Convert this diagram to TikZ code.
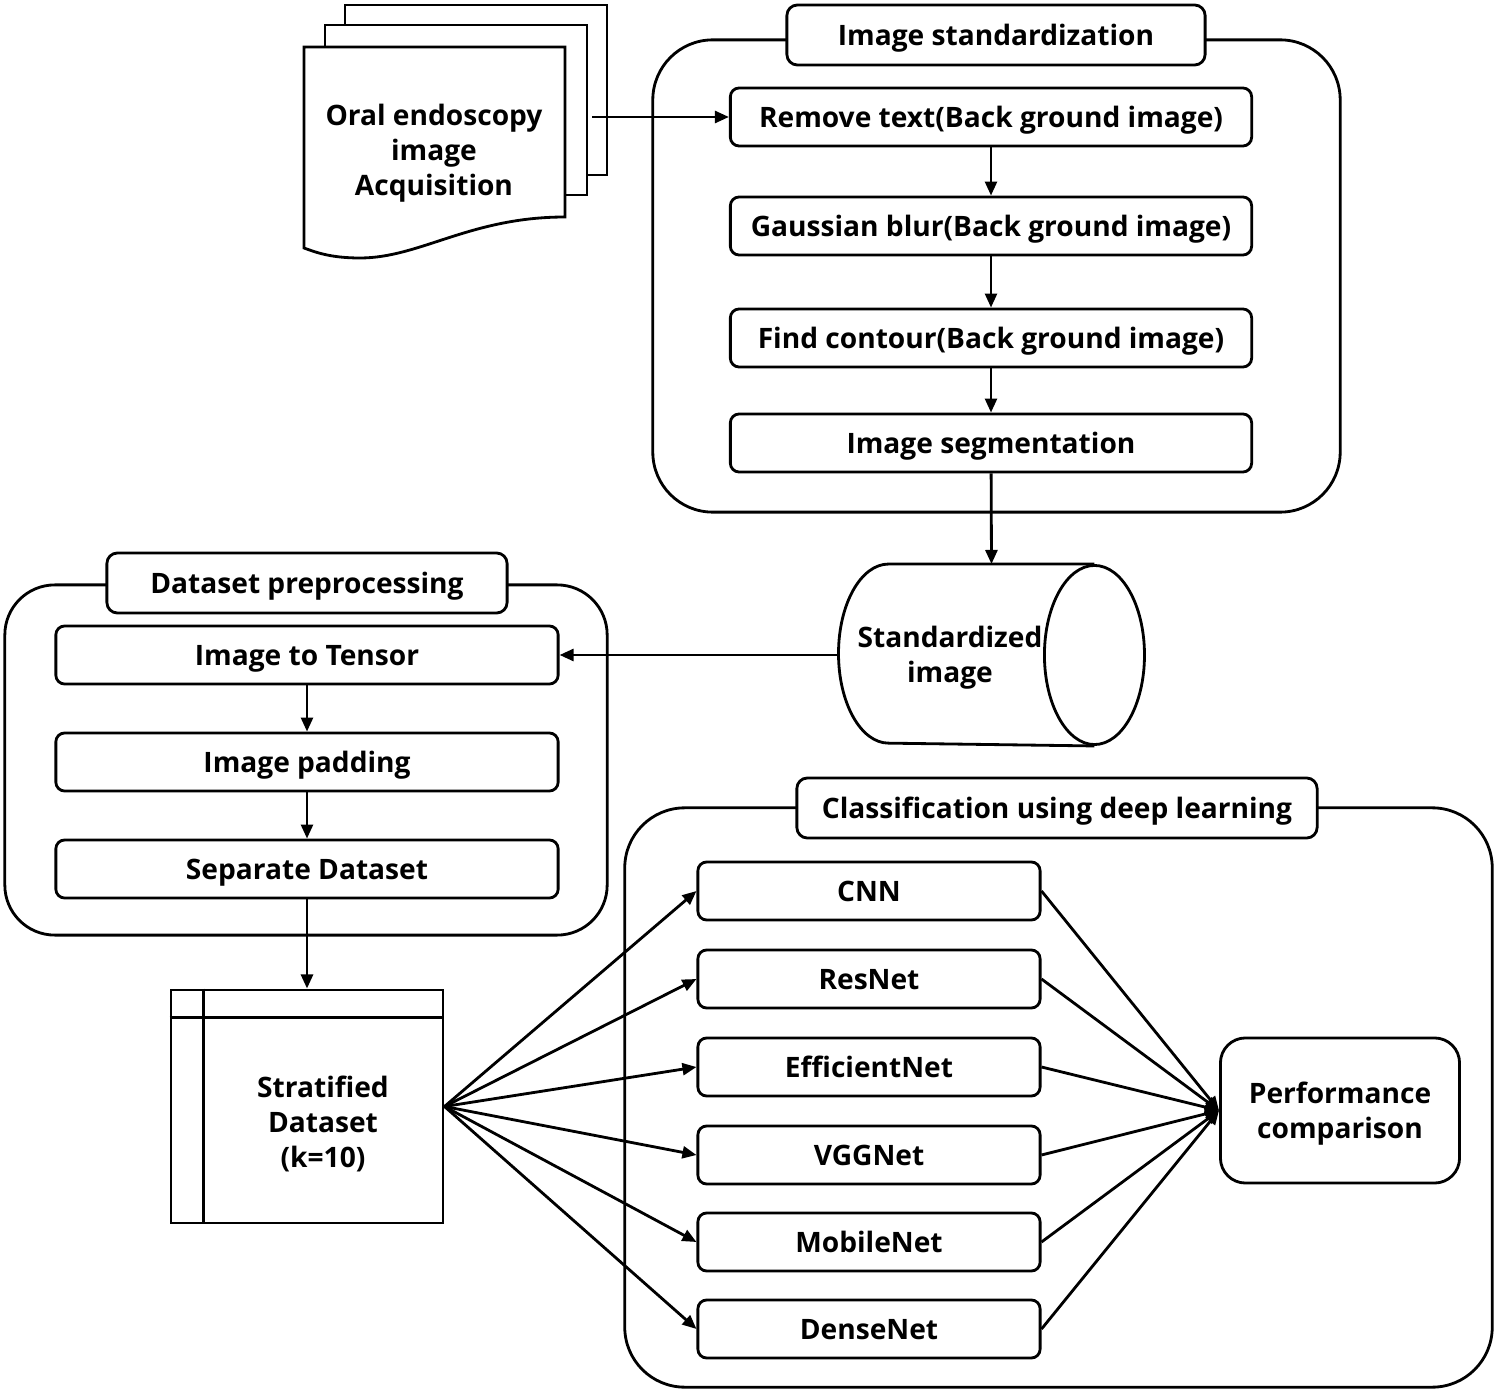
\documentclass[tikz,border=0pt]{standalone}
\usepackage{fontspec}
\setmainfont{Open Sans}
\usetikzlibrary{arrows.meta}
\tikzset{
  every node/.style={font=\bfseries\fontsize{8}{10}\selectfont, align=center},
  stepbox/.style={draw, rounded corners=2.5pt, minimum width=5.21cm, minimum height=0.58cm, inner sep=0pt, text height=6.4pt, text depth=0.3pt},
  prepbox/.style={stepbox, minimum width=5.02cm},
  netbox/.style={stepbox, minimum width=3.42cm},
  titlebox/.style={draw, fill=white, rounded corners=3pt, minimum height=0.6cm, inner sep=0pt, text height=6.4pt, text depth=0.3pt},
  groupbox/.style={draw, rounded corners=0.6cm, inner sep=0pt},
  arr/.style={-{Triangle[length=4pt,width=3.4pt]}},
}
\begin{document}
\begin{tikzpicture}[x=0.01cm, y=-0.01cm, line width=0.8pt]
  \useasboundingbox (0,0) rectangle (1499,1394);
  % stacked documents
  \draw[fill=white] (345,5) rectangle (607,175);
  \draw[fill=white] (325,25) rectangle (587,195);
  \draw[fill=white] (304,47) -- (565,47) -- (565,217)
    .. controls (470,217) and (420,258) .. (360,258)
    .. controls (330,258) and (315,252) .. (304,248) -- cycle;
  \node (acq) at (434,153) {Oral endoscopy\\image\\Acquisition};
  \coordinate (acqout) at (592,117);

  % image standardization
  \node[groupbox, minimum width=6.87cm, minimum height=4.72cm] (stdgrp) at (996.5,276) {};
  \node[titlebox, minimum width=4.18cm] (stdtitle) at (996,35) {Image standardization};
  \node[stepbox] (rmtext) at (991,117) {Remove text(Back ground image)};
  \node[stepbox] (blur) at (991,226) {Gaussian blur(Back ground image)};
  \node[stepbox] (contour) at (991,338) {Find contour(Back ground image)};
  \node[stepbox] (seg) at (991,443) {Image segmentation};
  \draw[arr] (acqout) -- (rmtext.west);
  \draw[arr] (rmtext) -- (blur);
  \draw[arr] (blur) -- (contour);
  \draw[arr] (contour) -- (seg);

  % standardized image
  \node[minimum width=3.03cm, minimum height=1.79cm, inner sep=0pt] (cyl) at (991.5,655) {};
  \draw ([xshift=-0.5cm]cyl.north east) -- ([xshift=0.5cm]cyl.north west)
    arc[start angle=90, end angle=270, x radius=0.5cm, y radius=0.895cm]
    -- ([xshift=-0.5cm]cyl.south east);
  \draw ([xshift=-0.5cm]cyl.east) ellipse [x radius=0.5cm, y radius=0.895cm];
  \node (cyltext) at (950,658) {Standardized\\image};
  \draw[arr] (seg) -- (cyl.north);

  % dataset preprocessing
  \node[groupbox, rounded corners=0.5cm, minimum width=6.02cm, minimum height=3.5cm] (prepgrp) at (306,760) {};
  \node[titlebox, minimum width=4.0cm] (preptitle) at (307,583) {Dataset preprocessing};
  \node[prepbox] (tensor) at (307,655) {Image to Tensor};
  \node[prepbox] (padding) at (307,762) {Image padding};
  \node[prepbox] (separate) at (307,869) {Separate Dataset};
  \draw[arr] (cyl.west) -- (tensor.east);
  \draw[arr] (tensor) -- (padding);
  \draw[arr] (padding) -- (separate);

  % stratified dataset
  \node[draw, minimum width=2.72cm, minimum height=2.33cm] (tab) at (307,1106.5) {};
  \draw ([yshift=-0.29cm]tab.north west) -- ([yshift=-0.29cm]tab.north east);
  \draw ([xshift=0.34cm]tab.north west) -- ([xshift=0.34cm]tab.south west);
  \node (tabtext) at (323,1124) {Stratified\\Dataset\\(k=10)};
  \draw[arr] (separate) -- (tab.north);

  % classification
  \node[groupbox, minimum width=8.67cm, minimum height=5.79cm] (clsgrp) at (1058.5,1097.5) {};
  \node[titlebox, minimum width=5.2cm] (clstitle) at (1057,808) {Classification using deep learning};
  \node[netbox] (cnn) at (869,891) {CNN};
  \node[netbox] (resnet) at (869,979) {ResNet};
  \node[netbox] (effnet) at (869,1067) {EfficientNet};
  \node[netbox] (vgg) at (869,1155) {VGGNet};
  \node[netbox] (mobile) at (869,1242) {MobileNet};
  \node[netbox] (dense) at (869,1329) {DenseNet};
  \node[draw, rounded corners=0.25cm, minimum width=2.39cm, minimum height=1.45cm, text depth=0pt] (perf) at (1340,1110.5) {Performance\\comparison};
  \foreach \n in {cnn,resnet,effnet,vgg,mobile,dense} {
    \draw[arr] (tab.east) -- (\n.west);
    \draw[arr] (\n.east) -- (perf.west);
  }
\end{tikzpicture}
\end{document}
